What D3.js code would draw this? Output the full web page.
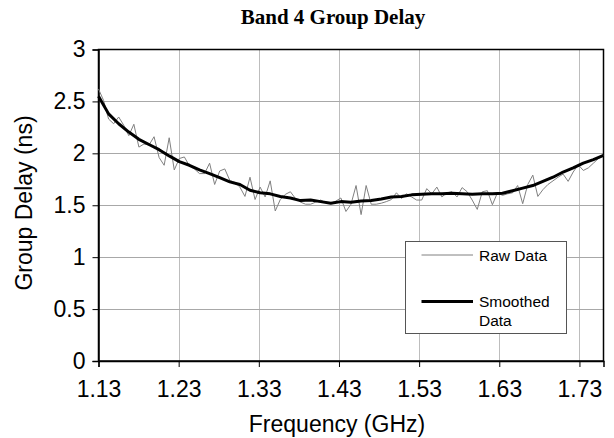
<!DOCTYPE html>
<html>
<head>
<meta charset="utf-8">
<script src="https://cdn.jsdelivr.net/npm/d3@7"></script>
<style>
  html, body { margin: 0; padding: 0; background: #fff; }
  svg { display: block; }
</style>
</head>
<body>
<svg id="chart" width="614" height="438"></svg>
<script>
// ---- data ----
const titleText = "Band 4 Group Delay";
const xLabel = "Frequency (GHz)";
const yLabel = "Group Delay (ns)";
const xTicks = [1.13, 1.23, 1.33, 1.43, 1.53, 1.63, 1.73];
const yTicks = [0, 0.5, 1, 1.5, 2, 2.5, 3];
const freqStart = 1.13;
const rawStep = 0.0063;
const smoothStep = 0.0126;

const rawDelay = [
  2.62, 2.51, 2.33, 2.285, 2.35, 2.27, 2.17, 2.28, 2.06, 2.09,
  2.08, 2.16, 1.96, 1.885, 2.15, 1.84, 1.95, 1.965, 1.88, 1.85,
  1.805, 1.805, 1.905, 1.70, 1.83, 1.85, 1.74, 1.72, 1.675, 1.585,
  1.77, 1.555, 1.675, 1.58, 1.735, 1.445, 1.555, 1.605, 1.63, 1.565,
  1.53, 1.51, 1.51, 1.53, 1.55, 1.525, 1.52, 1.54, 1.57, 1.44,
  1.51, 1.69, 1.41, 1.69, 1.51, 1.51, 1.52, 1.535, 1.555, 1.62,
  1.565, 1.61, 1.58, 1.55, 1.55, 1.66, 1.61, 1.675, 1.58, 1.62,
  1.63, 1.58, 1.67, 1.63, 1.55, 1.46, 1.63, 1.64, 1.505, 1.62,
  1.595, 1.61, 1.62, 1.69, 1.515, 1.70, 1.79, 1.585, 1.65, 1.70,
  1.735, 1.77, 1.80, 1.73, 1.82, 1.89, 1.835, 1.86, 1.905, 1.95,
  1.98
];
const smoothDelay = [
  2.55, 2.38, 2.285, 2.205, 2.135, 2.085, 2.035, 1.975, 1.92, 1.885,
  1.84, 1.805, 1.765, 1.725, 1.70, 1.645, 1.62, 1.61, 1.585, 1.57,
  1.545, 1.55, 1.535, 1.52, 1.535, 1.53, 1.54, 1.545, 1.56, 1.58,
  1.585, 1.60, 1.605, 1.61, 1.61, 1.615, 1.61, 1.605, 1.61, 1.61,
  1.615, 1.64, 1.665, 1.69, 1.73, 1.77, 1.82, 1.86, 1.905, 1.94,
  1.98
];
const legendItems = [
  { label: ["Raw Data"], color: "#808080", width: 1 },
  { label: ["Smoothed", "Data"], color: "#000", width: 3 }
];

// ---- layout ----
const sans = "Arial, 'Liberation Sans', Helvetica, sans-serif";
const serif = "'Times New Roman', 'Liberation Serif', Times, serif";
const svg = d3.select("#chart");
const margin = { left: 98.5, top: 49.5, right: 603.5, bottom: 361 };
const x = d3.scaleLinear().domain([1.13, 1.76]).range([margin.left, margin.right]);
const y = d3.scaleLinear().domain([0, 3]).range([margin.bottom, margin.top]);

const rawPts = rawDelay.map((v, i) => [freqStart + i * rawStep, v]);
const smoothPts = smoothDelay.map((v, i) => [freqStart + i * smoothStep, v]);

// gridlines
svg.append("g").selectAll("line").data(xTicks.slice(1)).join("line")
  .attr("x1", d => Math.round(x(d)) + 0.5).attr("x2", d => Math.round(x(d)) + 0.5)
  .attr("y1", margin.top).attr("y2", margin.bottom)
  .attr("stroke", "#bdbdbd").attr("stroke-width", 1);
svg.append("g").selectAll("line").data(yTicks.slice(1, -1)).join("line")
  .attr("x1", margin.left).attr("x2", margin.right)
  .attr("y1", d => Math.round(y(d)) + 0.5).attr("y2", d => Math.round(y(d)) + 0.5)
  .attr("stroke", "#a8a8a8").attr("stroke-width", 1);

// frame
svg.append("rect")
  .attr("x", margin.left).attr("y", margin.top)
  .attr("width", margin.right - margin.left).attr("height", margin.bottom - margin.top)
  .attr("fill", "none").attr("stroke", "#000").attr("stroke-width", 1.5);

// axes
const xAxis = d3.axisBottom(x).tickValues(xTicks).tickFormat(d3.format(".2f")).tickSize(6).tickPadding(14);
const gx = svg.append("g").attr("transform", `translate(0,${margin.bottom})`).call(xAxis);
gx.select(".domain").attr("stroke", "#000").attr("stroke-width", 1.5);
gx.selectAll(".tick line").attr("stroke", "#000");
gx.selectAll(".tick text").style("font-size", "23px").style("font-family", sans).attr("fill", "#000");

const yAxis = d3.axisLeft(y).tickValues(yTicks).tickFormat(d => String(d)).tickSize(6).tickPadding(7);
const gy = svg.append("g").attr("transform", `translate(${margin.left},0)`).call(yAxis);
gy.select(".domain").attr("stroke", "#000").attr("stroke-width", 1.5);
gy.selectAll(".tick line").attr("stroke", "#000");
gy.selectAll(".tick text").style("font-size", "23px").style("font-family", sans).attr("fill", "#000");

// lines
const line = d3.line().x(d => x(d[0])).y(d => y(d[1]));
svg.append("path").datum(rawPts).attr("d", line)
  .attr("fill", "none").attr("stroke", "#808080").attr("stroke-width", 1);
svg.append("path").datum(smoothPts).attr("d", line)
  .attr("fill", "none").attr("stroke", "#000").attr("stroke-width", 3).attr("stroke-linejoin", "round");

// title and axis labels
svg.append("text").attr("x", 333).attr("y", 24).attr("text-anchor", "middle")
  .style("font-family", serif).style("font-weight", "bold").style("font-size", "21px")
  .attr("fill", "#000").text(titleText);
svg.append("text").attr("x", 337).attr("y", 432).attr("text-anchor", "middle")
  .style("font-family", sans).style("font-size", "23px").attr("fill", "#000").text(xLabel);
svg.append("text").attr("transform", "translate(32,203) rotate(-90)").attr("text-anchor", "middle")
  .style("font-family", sans).style("font-size", "23px").attr("fill", "#000").text(yLabel);

// legend
const lg = svg.append("g");
lg.append("rect").attr("x", 405.5).attr("y", 241.5).attr("width", 161).attr("height", 92)
  .attr("fill", "#fff").attr("stroke", "#555").attr("stroke-width", 1);
const legendRowY = [255, 301.5];
legendItems.forEach((it, i) => {
  lg.append("line").attr("x1", 421.5).attr("x2", 473).attr("y1", legendRowY[i]).attr("y2", legendRowY[i])
    .attr("stroke", it.color).attr("stroke-width", it.width);
  it.label.forEach((t, k) => {
    lg.append("text").attr("x", 479).attr("y", legendRowY[i] + 5.5 + k * 18.5)
      .style("font-family", sans).style("font-size", "15.5px").attr("fill", "#000").text(t);
  });
});
</script>
</body>
</html>
